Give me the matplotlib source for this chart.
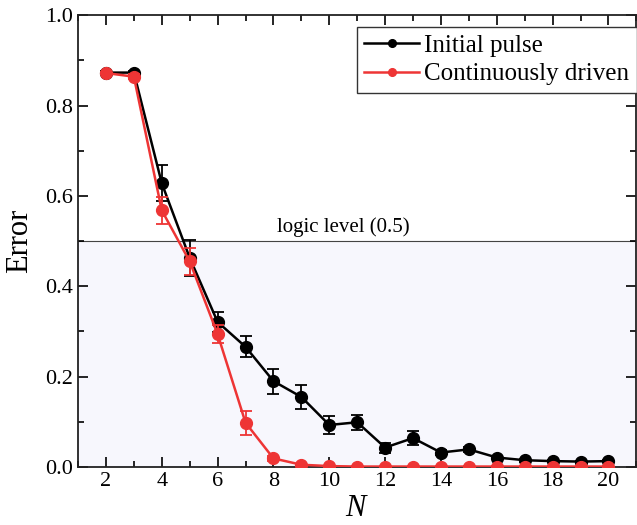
import matplotlib.pyplot as plt

plt.rcParams['font.family'] = 'Liberation Serif'
plt.rcParams['mathtext.fontset'] = 'custom'
plt.rcParams['mathtext.it'] = 'Liberation Serif:italic'

n = [2, 3, 4, 5, 6, 7, 8, 9, 10, 11, 12, 13, 14, 15, 16, 17, 18, 19, 20]

# Initial pulse
err_a = [0.873, 0.873, 0.628, 0.463, 0.321, 0.266, 0.190, 0.155, 0.093, 0.099, 0.043, 0.064,
         0.032, 0.039, 0.021, 0.015, 0.013, 0.012, 0.013]
sd_a = [0.004, 0.004, 0.040, 0.040, 0.022, 0.023, 0.028, 0.026, 0.020, 0.017, 0.011, 0.015,
        0.005, 0.006, 0.004, 0.003, 0.002, 0.002, 0.002]

# Continuously driven
err_b = [0.872, 0.864, 0.568, 0.455, 0.294, 0.098, 0.019, 0.005, 0.002, 0.001, 0.001, 0.001,
         0.001, 0.001, 0.001, 0.001, 0.001, 0.001, 0.001]
sd_b = [0.003, 0.006, 0.030, 0.030, 0.020, 0.027, 0.005, 0.002, 0.001, 0.001, 0.001, 0.001,
        0.001, 0.001, 0.001, 0.001, 0.001, 0.001, 0.001]

logic_level = 0.5

fig = plt.figure(figsize=(6.37, 5.25), dpi=100)
ax = fig.add_axes([0.1225, 0.1105, 0.8765, 0.8605])

ax.axhspan(0, logic_level, color='#f7f7fd', zorder=0)
ax.axhline(logic_level, color='#444444', linewidth=0.8, zorder=1)
ax.text(10.5, logic_level + 0.01, 'logic level (0.5)', ha='center', va='bottom', fontsize=15)

ea = ax.errorbar(n, err_a, yerr=sd_a, color='black', linewidth=1.8, marker='o', markersize=8.5,
                 capsize=4, elinewidth=1.3, capthick=1.3, label='Initial pulse', zorder=3)
eb = ax.errorbar(n, err_b, yerr=sd_b, color='#ee3535', linewidth=1.8, marker='o', markersize=8.5,
                 capsize=4, elinewidth=1.3, capthick=1.3, label='Continuously driven', zorder=4)

ax.set_xlim(1, 21)
ax.set_ylim(0, 1.0)
ax.set_xticks(range(2, 21, 2))
ax.set_xticks(range(1, 22), minor=True)
ax.set_yticks([0.0, 0.2, 0.4, 0.6, 0.8, 1.0])
ax.set_yticks([0.1, 0.3, 0.5, 0.7, 0.9], minor=True)
ax.yaxis.set_major_formatter(plt.FormatStrFormatter('%.1f'))
ax.tick_params(which='both', direction='in', top=True, right=True, labelsize=16, width=1.2)
ax.tick_params(which='major', length=7)
ax.tick_params(which='minor', length=4)
for s in ax.spines.values():
    s.set_linewidth(1.3)
    s.set_color('#222222')

ax.set_xlabel('$N$', fontsize=22, labelpad=2)
ax.set_ylabel('Error', fontsize=22, labelpad=8)

leg = ax.legend([ea[0], eb[0]], ['Initial pulse', 'Continuously driven'],
                loc='upper left', bbox_to_anchor=(0.499, 0.975), borderaxespad=0,
                fontsize=18, frameon=True, fancybox=False, edgecolor='#333333', framealpha=1,
                handlelength=2.2, handletextpad=0.2, borderpad=0.3, labelspacing=0.25,
                markerscale=0.65)
leg.get_frame().set_linewidth(1.0)

fig.savefig('out.png', dpi=100)
